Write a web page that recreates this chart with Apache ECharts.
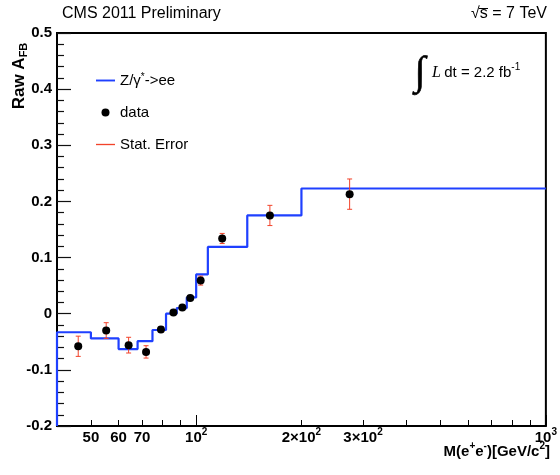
<!DOCTYPE html>
<html>
<head>
<meta charset="utf-8">
<script src="https://cdn.jsdelivr.net/npm/echarts@6/dist/echarts.min.js"></script>
<style>
  html, body { margin: 0; padding: 0; background: #fff; }
  #chart { width: 560px; height: 475px; }
</style>
</head>
<body>
<div id="chart"></div>
<script>
// Raw forward-backward asymmetry vs. dielectron invariant mass (CMS 2011, 2.2 fb^-1)

// Mass bin edges of the Z/gamma* -> ee prediction [GeV/c^2]
const massBinEdges = [40, 50, 60, 68, 75, 82, 88, 94, 100, 108, 140, 200, 1000];
// Predicted raw A_FB per bin
const predictedAfb = [-0.033, -0.044, -0.063, -0.049, -0.029, 0.000, 0.010, 0.029, 0.070, 0.119, 0.175, 0.223];

// Measured points: mean mass, raw A_FB and statistical error
const dataMass = [46.0, 55.3, 64.1, 71.9, 79.3, 86.1, 91.3, 96.2, 103.0, 118.7, 162.5, 274.7];
const dataAfb  = [-0.058, -0.030, -0.056, -0.068, -0.028, 0.002, 0.011, 0.028, 0.059, 0.134, 0.175, 0.213];
const statErr  = [0.018, 0.014, 0.014, 0.011, 0.005, 0.004, 0.004, 0.004, 0.008, 0.009, 0.018, 0.027];

// Axis ranges and tick labels
const xMin = 40, xMax = 1000;
const yMin = -0.2, yMax = 0.5, yStep = 0.1;
const xMajorTicks = [100, 1000];
const xMinorTicks = [50, 60, 70, 80, 90, 200, 300, 400, 500, 600, 700, 800, 900];
const xLabelValues = [50, 60, 70, 100, 200, 300, 1000];
const xLabelTexts = ['50', '60', '70', '10{sup|2}', '2\u00d710{sup|2}', '3\u00d710{sup|2}', '10{sup|3}'];

const FONT = 'Liberation Sans';
const BLUE = '#1f40ff';
const RED = '#f2432a';
const modelName = 'Z/\u03b3*->ee';

// Histogram outline: rises from the axis floor, then steps through every bin
const histLine = [[massBinEdges[0], yMin]];
predictedAfb.forEach((v, i) => histLine.push([massBinEdges[i], v]));
histLine.push([massBinEdges[massBinEdges.length - 1], predictedAfb[predictedAfb.length - 1]]);

const points = dataMass.map((m, i) => [m, dataAfb[i]]);
const errRows = dataMass.map((m, i) => [m, dataAfb[i], statErr[i]]);

const chart = echarts.init(document.getElementById('chart'), null, { renderer: 'canvas' });

const supRich = {
  sup: { fontSize: 10, fontWeight: 'bold', fontFamily: FONT, color: '#000', verticalAlign: 'top', lineHeight: 10 }
};

chart.setOption({
  animation: false,
  backgroundColor: '#fff',
  textStyle: { fontFamily: FONT },
  grid: {
    left: 57, right: 9, top: 33, bottom: 49,
    show: true, borderColor: '#000', borderWidth: 2, backgroundColor: 'transparent'
  },
  legend: {
    left: 91, top: 67, orient: 'vertical',
    itemWidth: 19, itemHeight: 8, itemGap: 15,
    selectedMode: false,
    textStyle: { fontFamily: FONT, fontSize: 15, color: '#000', lineHeight: 17,
      rich: { sup: { fontSize: 10, fontFamily: FONT, color: '#000', verticalAlign: 'top', lineHeight: 10 } } },
    formatter: name => name === modelName ? 'Z/\u03b3{sup|*}->ee' : name,
    data: [
      { name: modelName, icon: 'path://M0,0H20V2H0Z' },
      { name: 'data', icon: 'circle', itemStyle: { opacity: 1 } },
      { name: 'Stat. Error', icon: 'path://M0,0H20V1.4H0Z' }
    ]
  },
  xAxis: [
    {
      type: 'log', logBase: 10, min: xMin, max: xMax, position: 'bottom',
      axisLine: { show: false, onZero: false },
      splitLine: { show: false },
      axisTick: { show: true, inside: true, length: 11, customValues: xMajorTicks,
        lineStyle: { color: '#000', width: 1 } },
      axisLabel: {
        customValues: xLabelValues,
        margin: 1, lineHeight: 22,
        fontFamily: FONT, fontSize: 15, fontWeight: 'bold', color: '#000',
        rich: supRich,
        formatter: v => {
          const i = xLabelValues.findIndex(t => Math.abs(t - v) / t < 1e-6);
          return i >= 0 ? xLabelTexts[i] : '';
        }
      }
    },
    {
      type: 'log', logBase: 10, min: xMin, max: xMax, position: 'bottom',
      axisLine: { show: false, onZero: false },
      splitLine: { show: false },
      axisLabel: { show: false },
      axisTick: { show: true, inside: true, length: 6, customValues: xMinorTicks,
        lineStyle: { color: '#000', width: 1 } }
    }
  ],
  yAxis: {
    type: 'value', min: yMin, max: yMax, interval: yStep,
    axisLine: { show: false, onZero: false },
    splitLine: { show: false },
    axisTick: { show: true, inside: true, length: 14, lineStyle: { color: '#111', width: 1.2 } },
    minorTick: { show: true, splitNumber: 5, length: 7, lineStyle: { color: '#111', width: 1.2 } },
    axisLabel: { margin: 5, fontFamily: FONT, fontSize: 15, fontWeight: 'bold', color: '#000' }
  },
  series: [
    {
      name: modelName, type: 'line', step: 'end', data: histLine,
      xAxisIndex: 0, showSymbol: false, symbol: 'none', color: BLUE,
      lineStyle: { color: BLUE, width: 2.2 }, z: 3
    },
    {
      name: 'Stat. Error', type: 'custom', xAxisIndex: 0, data: errRows,
      itemStyle: { color: RED }, encode: { x: 0, y: 1 }, z: 4,
      renderItem: (params, api) => {
        const x = api.value(0), y = api.value(1), e = api.value(2);
        const lo = api.coord([x, y - e]);
        const hi = api.coord([x, y + e]);
        const cap = 2.5;
        const st = { stroke: RED, lineWidth: 1 };
        return {
          type: 'group',
          children: [
            { type: 'line', shape: { x1: lo[0], y1: lo[1], x2: hi[0], y2: hi[1] }, style: st },
            { type: 'line', shape: { x1: lo[0] - cap, y1: lo[1], x2: lo[0] + cap, y2: lo[1] }, style: st },
            { type: 'line', shape: { x1: hi[0] - cap, y1: hi[1], x2: hi[0] + cap, y2: hi[1] }, style: st }
          ]
        };
      }
    },
    {
      name: 'data', type: 'scatter', xAxisIndex: 0, data: points,
      symbol: 'circle', symbolSize: 8, itemStyle: { color: '#000', opacity: 1 }, z: 5
    }
  ],
  graphic: [
    { type: 'text', left: 62, top: 6,
      style: { text: 'CMS 2011 Preliminary', fontFamily: FONT, fontSize: 16, fill: '#000' } },
    { type: 'text', right: 13, top: 6,
      style: { text: '\u221as = 7 TeV', fontFamily: FONT, fontSize: 16, fill: '#000' } },
    // overline of the square root, spanning the "s"
    { type: 'line', shape: { x1: 479, y1: 8.5, x2: 488, y2: 8.5 }, style: { stroke: '#000', lineWidth: 1 } },
    { type: 'text', x: 19, y: 76, rotation: Math.PI / 2,
      style: {
        text: '{m|Raw A}{sub|FB}', textAlign: 'center', textVerticalAlign: 'middle',
        rich: {
          m: { fontFamily: FONT, fontSize: 17, fontWeight: 'bold', fill: '#000', lineHeight: 21 },
          sub: { fontFamily: FONT, fontSize: 11, fontWeight: 'bold', fill: '#000', verticalAlign: 'bottom', lineHeight: 11 }
        }
      } },
    { type: 'text', x: 550, y: 452,
      style: {
        text: '{m|M(e}{sup|+}{m|e}{sup|-}{m|)[GeV/c}{sup|2}{m|]}', textAlign: 'right', textVerticalAlign: 'middle',
        rich: {
          m: { fontFamily: FONT, fontSize: 15, fontWeight: 'bold', fill: '#000', lineHeight: 22 },
          sup: { fontFamily: FONT, fontSize: 10, fontWeight: 'bold', fill: '#000', verticalAlign: 'top', lineHeight: 10 }
        }
      } },
    { type: 'text', x: 420, y: 73,
      style: { text: '\u222b', fontFamily: 'Liberation Serif', fontSize: 40, fontStyle: 'italic',
        fill: '#000', stroke: '#000', lineWidth: 0.6, textAlign: 'center', textVerticalAlign: 'middle' } },
    { type: 'text', x: 432, y: 73,
      style: {
        text: '{it|L} {m|dt = 2.2 fb}{sup|-1}', textVerticalAlign: 'middle',
        rich: {
          it: { fontFamily: 'Liberation Serif', fontStyle: 'italic', fontSize: 16, fill: '#000', lineHeight: 22 },
          m: { fontFamily: FONT, fontSize: 15, fill: '#000', lineHeight: 22 },
          sup: { fontFamily: FONT, fontSize: 10, fill: '#000', verticalAlign: 'top', lineHeight: 10 }
        }
      } }
  ]
});
</script>
</body>
</html>
